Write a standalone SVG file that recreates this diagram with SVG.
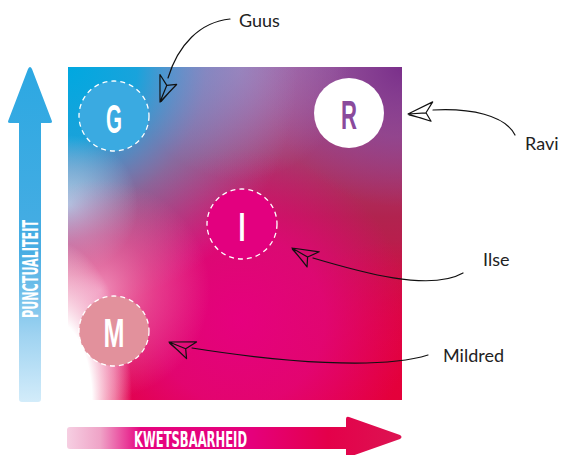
<svg xmlns="http://www.w3.org/2000/svg" width="565" height="455" viewBox="0 0 565 455">
<defs>
<style>
.lbl{font-family:"Lato","Liberation Sans",sans-serif;font-size:18px;fill:#222}
.conn{fill:none;stroke:#111;stroke-width:1.2;stroke-linecap:round;stroke-linejoin:round}
.ltr{font-family:"Liberation Sans",sans-serif;font-weight:bold;font-size:40px;text-anchor:middle}
.ax{font-family:"DejaVu Sans Condensed","Liberation Sans",sans-serif;font-weight:bold;font-size:21px;fill:#fff}
.dash{stroke:#fff;stroke-width:1.3;stroke-dasharray:5 4}
</style>
<linearGradient id="base" x1="0" y1="0" x2="0" y2="1">
<stop offset="0" stop-color="#9c5a9e"/>
<stop offset="0.45" stop-color="#b1234f"/>
<stop offset="1" stop-color="#e3003c"/>
</linearGradient>
<radialGradient id="cyan" cx="68" cy="67" r="230" gradientUnits="userSpaceOnUse" gradientTransform="translate(68,67) scale(1,1.05) translate(-68,-67)">
<stop offset="0" stop-color="#00a8e0" stop-opacity="1"/>
<stop offset="0.3" stop-color="#12a7df" stop-opacity="0.95"/>
<stop offset="0.6" stop-color="#60a8dc" stop-opacity="0.45"/>
<stop offset="1" stop-color="#8fa6d8" stop-opacity="0"/>
</radialGradient>
<radialGradient id="lblue" cx="68" cy="205" r="70" gradientUnits="userSpaceOnUse">
<stop offset="0" stop-color="#aadcf3" stop-opacity="0.9"/>
<stop offset="1" stop-color="#aadcf3" stop-opacity="0"/>
</radialGradient>
<radialGradient id="lav" cx="240" cy="70" r="110" gradientUnits="userSpaceOnUse">
<stop offset="0" stop-color="#a97db7" stop-opacity="0.8"/>
<stop offset="1" stop-color="#a97db7" stop-opacity="0"/>
</radialGradient>
<radialGradient id="purp" cx="402" cy="67" r="140" gradientUnits="userSpaceOnUse">
<stop offset="0" stop-color="#7a2f8a" stop-opacity="1"/>
<stop offset="0.5" stop-color="#8a4796" stop-opacity="0.7"/>
<stop offset="1" stop-color="#8a4796" stop-opacity="0"/>
</radialGradient>
<radialGradient id="mag" cx="240" cy="320" r="170" gradientUnits="userSpaceOnUse">
<stop offset="0" stop-color="#e6007e" stop-opacity="1"/>
<stop offset="0.5" stop-color="#e3057c" stop-opacity="0.8"/>
<stop offset="1" stop-color="#e3057c" stop-opacity="0"/>
</radialGradient>
<radialGradient id="red" cx="402" cy="400" r="160" gradientUnits="userSpaceOnUse">
<stop offset="0" stop-color="#e4003a" stop-opacity="1"/>
<stop offset="0.5" stop-color="#e4003e" stop-opacity="0.7"/>
<stop offset="1" stop-color="#e4003e" stop-opacity="0"/>
</radialGradient>
<radialGradient id="pink" cx="100" cy="290" r="110" gradientUnits="userSpaceOnUse">
<stop offset="0" stop-color="#f49ac2" stop-opacity="0.9"/>
<stop offset="0.5" stop-color="#ef6fa8" stop-opacity="0.5"/>
<stop offset="1" stop-color="#ef6fa8" stop-opacity="0"/>
</radialGradient>
<radialGradient id="white" cx="52" cy="400" r="80" gradientUnits="userSpaceOnUse" gradientTransform="translate(52,400) scale(1,2) translate(-52,-400)">
<stop offset="0" stop-color="#fff" stop-opacity="1"/>
<stop offset="0.5" stop-color="#fff" stop-opacity="1"/>
<stop offset="0.78" stop-color="#fde8f1" stop-opacity="0.55"/>
<stop offset="1" stop-color="#fff" stop-opacity="0"/>
</radialGradient>
<linearGradient id="vgrad" x1="0" y1="67" x2="0" y2="402" gradientUnits="userSpaceOnUse">
<stop offset="0" stop-color="#2ca8e2"/>
<stop offset="0.55" stop-color="#48ade3"/>
<stop offset="0.8" stop-color="#9fd3f1"/>
<stop offset="1" stop-color="#d3ecfa"/>
</linearGradient>
<linearGradient id="hgrad" x1="67" y1="0" x2="402" y2="0" gradientUnits="userSpaceOnUse">
<stop offset="0" stop-color="#f6cfe2"/>
<stop offset="0.1" stop-color="#efa3c7"/>
<stop offset="0.22" stop-color="#e6057f"/>
<stop offset="0.55" stop-color="#e5007c"/>
<stop offset="0.78" stop-color="#e4004a"/>
<stop offset="1" stop-color="#dc1452"/>
</linearGradient>
<g id="plane">
<path class="conn" d="M0,0 L26,-9 L18,1 L22,10 Z M0,0 L18,1 M1,1 Q12,5 22,10"/>
</g>
</defs>

<g id="field">
<rect x="68" y="67" width="334" height="333" fill="url(#base)"/>
<rect x="68" y="67" width="334" height="333" fill="url(#red)"/>
<rect x="68" y="67" width="334" height="333" fill="url(#purp)"/>
<rect x="68" y="67" width="334" height="333" fill="url(#mag)"/>
<rect x="68" y="67" width="334" height="333" fill="url(#lav)"/>
<rect x="68" y="67" width="334" height="333" fill="url(#cyan)"/>
<rect x="68" y="67" width="334" height="333" fill="url(#lblue)"/>
<rect x="68" y="67" width="334" height="333" fill="url(#pink)"/>
<rect x="68" y="67" width="334" height="333" fill="url(#white)"/>
</g>

<g id="axis-y">
<path d="M19,402 L19,123 L10,123 Q7,123 8.5,120 L28,69 Q30,65 32,69 L51.5,120 Q53,123 50,123 L41,123 L41,399 Q41,402 38,402 L22,402 Q19,402 19,399 Z" fill="url(#vgrad)"/>
<text class="ax" transform="translate(38,318) rotate(-90)" textLength="98" lengthAdjust="spacingAndGlyphs">PUNCTUALITEIT</text>
</g>

<g id="axis-x">
<path d="M70,427 L346,427 L346,419 Q346,416 349,417 L400,435 Q403,437 400,439 L349,457 Q346,458 346,455 L346,449 L70,449 Q67,449 67,446 L67,430 Q67,427 70,427 Z" fill="url(#hgrad)"/>
<text class="ax" x="134" y="447" textLength="113" lengthAdjust="spacingAndGlyphs">KWETSBAARHEID</text>
</g>

<g id="node-G">
<circle cx="114" cy="116" r="35" fill="#3aaae1" class="dash"/>
<text class="ltr" x="114" y="133" fill="#fff" textLength="16" lengthAdjust="spacingAndGlyphs">G</text>
</g>
<g id="node-R">
<circle cx="349" cy="113" r="35" fill="#fff"/>
<text class="ltr" x="349" y="129" fill="#8a4a9c" textLength="16" lengthAdjust="spacingAndGlyphs">R</text>
</g>
<g id="node-I">
<circle cx="242" cy="224" r="35" fill="#e3007f" class="dash"/>
<text class="ltr" x="242" y="241" fill="#fff" textLength="7" lengthAdjust="spacingAndGlyphs">I</text>
</g>
<g id="node-M">
<circle cx="114" cy="331" r="35" fill="#e2919c" class="dash"/>
<text class="ltr" x="114" y="347" fill="#fff" textLength="21" lengthAdjust="spacingAndGlyphs">M</text>
</g>

<g id="connectors">
<path class="conn" d="M168,78 C178,45 200,22 230,19"/>
<use href="#plane" transform="translate(160,102) rotate(-71)"/>
<path class="conn" d="M433,110 C470,108 505,115 515,135"/>
<use href="#plane" transform="translate(408,114) rotate(-7)"/>
<path class="conn" d="M313,258 C360,272 430,292 463,273"/>
<use href="#plane" transform="translate(292,248) rotate(27)"/>
<path class="conn" d="M192,348 C280,362 380,370 428,355"/>
<use href="#plane" transform="translate(169,342) rotate(19)"/>
</g>

<g id="labels">
<text class="lbl" x="239" y="27">Guus</text>
<text class="lbl" x="525" y="150">Ravi</text>
<text class="lbl" x="483" y="266">Ilse</text>
<text class="lbl" x="443" y="362">Mildred</text>
</g>
</svg>
